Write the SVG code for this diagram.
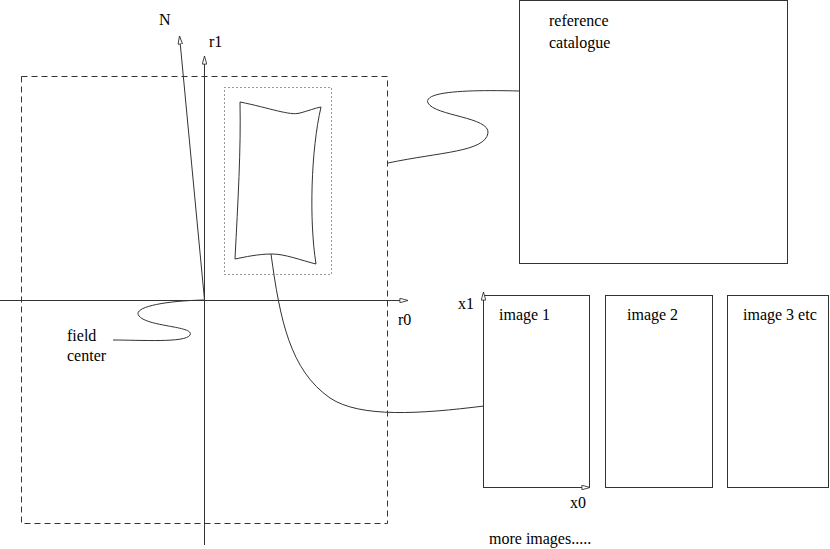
<svg xmlns="http://www.w3.org/2000/svg" width="830" height="549" viewBox="0 0 830 549">
<style>
.ln{fill:none;stroke:#333;stroke-width:1}
.box{fill:none;stroke:#333;stroke-width:1}
.t{font-family:'Liberation Serif','DejaVu Serif','Times New Roman',serif;font-size:16px;fill:#000}
</style>
<defs>
<marker id="ah" viewBox="0 0 10 6" markerWidth="9" markerHeight="5.4" refX="9.5" refY="3" orient="auto" markerUnits="userSpaceOnUse">
<path d="M0.5,0.5 L9.5,3 L0.5,5.5 z" fill="#fff" stroke="#333" stroke-width="1"/>
</marker>
</defs>
<rect width="830" height="549" fill="#fff"/>
<g id="field">
<rect x="21.5" y="76.5" width="366" height="447" class="box" stroke-dasharray="6 4"/>
</g>
<g id="subfield">
<rect x="224.5" y="87.5" width="107" height="187" class="box" stroke-dasharray="1 3"/>
<path class="ln" d="M240,102 C270,108 290,116 300,113 C308,111 315,108 321,107 C311,150 309,220 316,264 C300,260 285,254 272,254 C258,254 245,257 235,259 C238,200 241,150 240,102 Z"/>
</g>
<g id="catalogue">
<rect x="519.5" y="0.5" width="268" height="263" class="box"/>
<text class="t" font-family="Liberation Serif, serif" x="549" y="26">reference</text>
<text class="t" font-family="Liberation Serif, serif" x="549" y="48">catalogue</text>
</g>
<g id="image1">
<rect x="483.5" y="295.5" width="106" height="192" class="box"/>
<text class="t" font-family="Liberation Serif, serif" x="499" y="320">image 1</text>
</g>
<g id="image2">
<rect x="605.5" y="295.5" width="107" height="192" class="box"/>
<text class="t" font-family="Liberation Serif, serif" x="627" y="320">image 2</text>
</g>
<g id="image3">
<rect x="727.5" y="295.5" width="101" height="192" class="box"/>
<text class="t" font-family="Liberation Serif, serif" x="743" y="320">image 3 etc</text>
</g>
<g id="axes">
<line class="ln" x1="204.5" y1="545" x2="204.5" y2="56" marker-end="url(#ah)"/>
<line class="ln" x1="0" y1="300.5" x2="408" y2="300.5" marker-end="url(#ah)"/>
<line class="ln" x1="204.5" y1="300" x2="179.5" y2="36" marker-end="url(#ah)"/>
<line class="ln" x1="483.5" y1="487" x2="483.5" y2="292" marker-end="url(#ah)"/>
<line class="ln" x1="483.5" y1="487.5" x2="590" y2="487.5" marker-end="url(#ah)"/>
<text class="t" font-family="Liberation Serif, serif" x="159" y="25">N</text>
<text class="t" font-family="Liberation Serif, serif" x="209" y="47">r1</text>
<text class="t" font-family="Liberation Serif, serif" x="398" y="325">r0</text>
<text class="t" font-family="Liberation Serif, serif" x="458" y="309">x1</text>
<text class="t" font-family="Liberation Serif, serif" x="570" y="508">x0</text>
<text class="t" font-family="Liberation Serif, serif" x="67" y="341">field</text>
<text class="t" font-family="Liberation Serif, serif" x="67" y="361">center</text>
<text class="t" font-family="Liberation Serif, serif" x="489" y="544">more images.....</text>
</g>
<g id="connectors">
<path class="ln" d="M271,254 C280,320 290,370 330,398 C360,418 420,414 484,406"/>
<path class="ln" d="M204,300 C160,301 132,308 139,316 C148,327 195,326 190,335 C186,343 140,340 113,340"/>
<path class="ln" d="M388,163 C440,152 485,152 488,133 C490,117 435,116 428,103 C422,90 480,90 519,91"/>
</g>
</svg>
